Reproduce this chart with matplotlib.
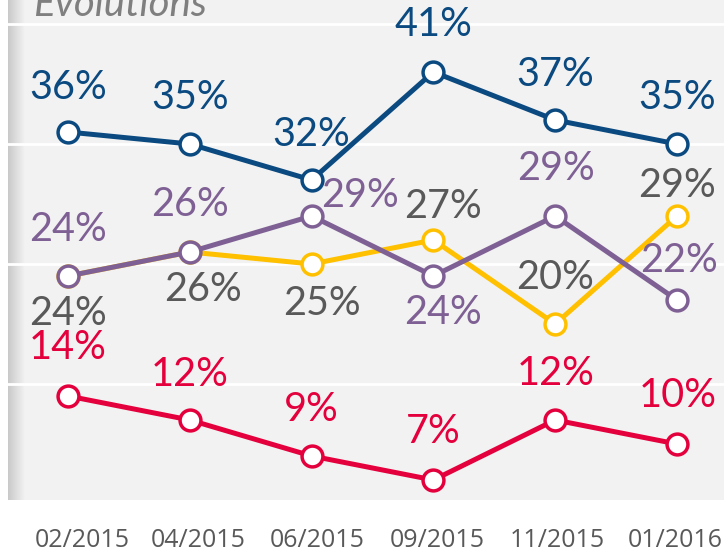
import matplotlib
matplotlib.use("Agg")
import matplotlib.pyplot as plt
import matplotlib.transforms as mtransforms
import numpy as np
from matplotlib.colors import LinearSegmentedColormap

periods = ["02/2015", "04/2015", "06/2015", "09/2015", "11/2015", "01/2016"]
blue_vals = [36, 35, 32, 41, 37, 35]
red_vals = [14, 12, 9, 7, 12, 10]
yellow_vals = [24, 26, 25, 27, 20, 29]
purple_vals = [24, 26, 29, 24, 29, 22]

BLUE = "#0b4a80"
RED = "#e4003c"
YELLOW = "#ffc000"
PURPLE = "#7f6094"
GRAY = "#595959"
BG = "#f2f2f2"

fig = plt.figure(figsize=(7.24, 5.54), dpi=100)
ax = fig.add_axes([8 / 724, 54 / 554, 1 - 8 / 724, 500 / 554])
ax.set_facecolor(BG)
x = np.arange(len(periods))
ax.set_xlim(-0.4926, 5.386)
ax.set_ylim(5.333, 47)

# left shadow gradient
grad = np.linspace(0, 1, 64).reshape(1, -1)
cm = LinearSegmentedColormap.from_list("sh", ["#c9c9c9", BG])
ax.imshow(grad, cmap=cm, aspect="auto", extent=(0, 17 / 716, 0, 1),
          transform=ax.transAxes, zorder=0.5)

for g in [15, 25, 35, 45]:
    ax.axhline(g, color="white", lw=2, zorder=1)

for s in ax.spines.values():
    s.set_visible(False)
ax.set_yticks([])
ax.set_xticks(x)
ax.set_xticklabels(periods, fontsize=18, color=GRAY, family="Open Sans")
ax.tick_params(axis="x", length=0, pad=20.5)
label_shift = [14, 8, 6, 4, 2, -2]
for t, dx in zip(ax.get_xticklabels(), label_shift):
    t.set_transform(t.get_transform() + mtransforms.ScaledTranslation(dx / 100, 0, fig.dpi_scale_trans))

def draw(vals, color, z):
    ax.plot(x, vals, color=color, lw=3.6, zorder=z, marker="o", ms=15,
            mfc="white", mec=color, mew=2.5, solid_capstyle="round")

draw(yellow_vals, YELLOW, 3)
draw(purple_vals, PURPLE, 4)
draw(red_vals, RED, 3)
draw(blue_vals, BLUE, 5)

FS = 28.5
FONT = "Lato"

def lab(vals, color, offsets):
    for xi, v, (dx, dy) in zip(x, vals, offsets):
        ax.annotate(f"{v}%", (xi, v), xytext=(dx, dy), textcoords="offset pixels",
                    ha="center", va="center", fontsize=FS, color=color,
                    family=FONT, fontweight="normal", zorder=6)

lab(blue_vals, BLUE, [(0, 44), (0, 46), (0, 45), (0, 47), (0, 45), (0, 46)])
lab(red_vals, RED, [(0, 48), (0, 45), (0, 46), (0, 48), (0, 46), (1, 48)])
lab(purple_vals, PURPLE, [(0, 46), (0, 47), (48, 20), (10, -37), (1, 47), (2, 39)])
lab(yellow_vals, GRAY, [(0, -38), (13, -38), (10, -40), (10, 33), (0, 46), (0, 30)])

fig.text(33 / 724, 1 - 16 / 554, "Evolutions", fontsize=29, style="italic",
         color="#7f7f7f", family="Lato", fontweight="normal", ha="left", va="baseline")

fig.savefig("out.png", dpi=100)
